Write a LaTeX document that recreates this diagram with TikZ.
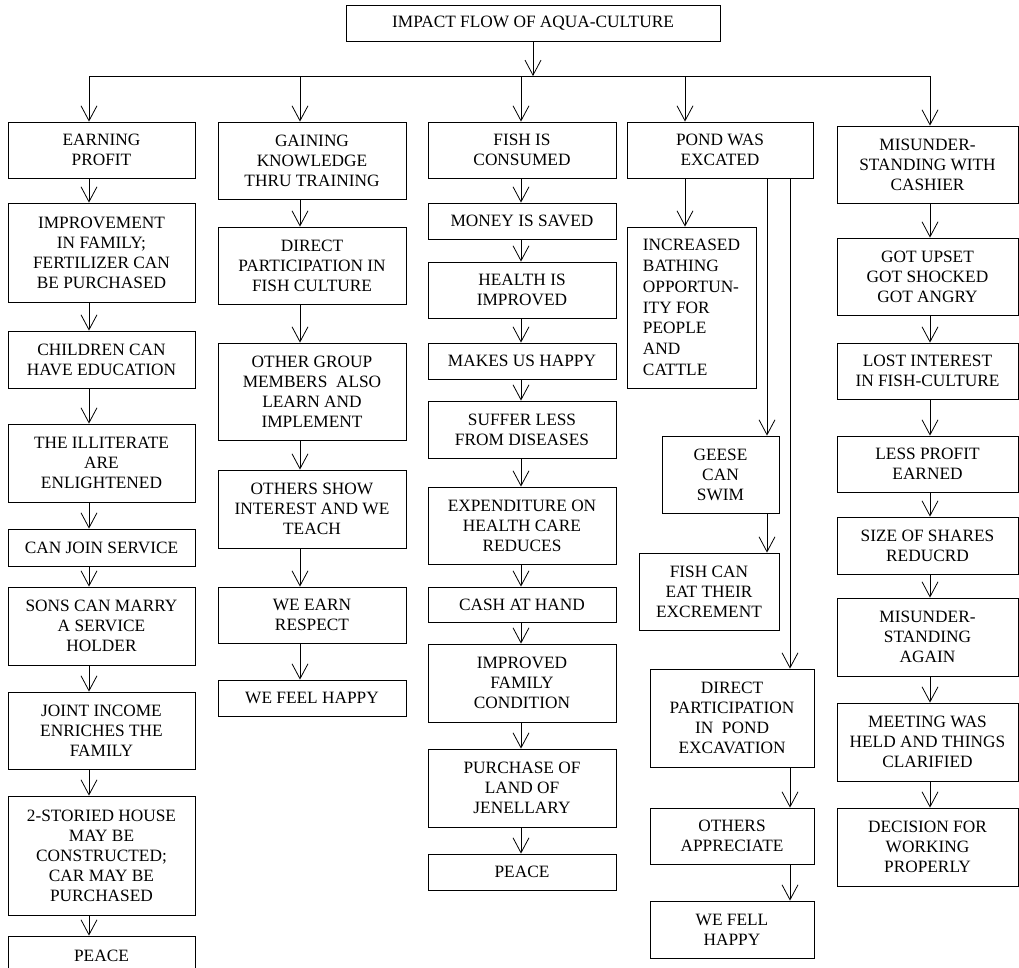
\documentclass[tikz,border=0pt]{standalone}
\usepackage{fontspec}
\setmainfont{Liberation Serif}
\usetikzlibrary{arrows.meta}

% box from corner (x1,y1) to (x2,y2), y measured downward
\newcommand\flowbox[7][]{%
  \node[box,#1,minimum width={#4-#2},minimum height={#5-#3}] (#6)
    at ({(#2+#4)/2},{(#3+#5)/2}) {#7};}

\begin{document}
\begin{tikzpicture}[x=1pt,y=-1pt,
  box/.style={draw,line width=0.8pt,inner sep=0pt,align=center,
    font=\fontsize{17.3}{20}\selectfont},
  arr/.style={line width=0.8pt,-{Straight Barb[length=15pt,width=16pt,line width=0.8pt]}},
  link/.style={line width=0.8pt}]
\useasboundingbox (0,0) rectangle (1019,967);
\clip (0,0) rectangle (1019,967);

% arrow columns
\coordinate (xa) at (89,0);
\coordinate (xb) at (300,0);
\coordinate (xc) at (521,0);
\coordinate (xd) at (685,0);
\coordinate (xg) at (767,0);
\coordinate (xp) at (790,0);
\coordinate (xe) at (930,0);
\coordinate (bus) at (533,76);

\flowbox{346}{5}{720}{41}{title}{IMPACT FLOW OF AQUA-CULTURE}

% column 1
\flowbox{8}{122}{195}{178}{a1}{EARNING\\PROFIT}
\flowbox{8}{203}{195}{302}{a2}{IMPROVEMENT\\IN FAMILY;\\FERTILIZER CAN\\BE PURCHASED}
\flowbox{8}{331}{195}{388}{a3}{CHILDREN CAN\\HAVE EDUCATION}
\flowbox{8}{424}{195}{502}{a4}{THE ILLITERATE\\ARE\\ENLIGHTENED}
\flowbox{8}{529}{195}{566}{a5}{CAN JOIN SERVICE}
\flowbox{8}{587}{195}{665}{a6}{SONS CAN MARRY\\A SERVICE\\HOLDER}
\flowbox{8}{692}{195}{769}{a7}{JOINT INCOME\\ENRICHES THE\\FAMILY}
\flowbox{8}{796}{195}{915}{a8}{2-STORIED HOUSE\\MAY BE\\CONSTRUCTED;\\CAR MAY BE\\PURCHASED}
\flowbox{8}{936}{195}{976}{a9}{PEACE}

% column 2
\flowbox{218}{122}{406}{199}{b1}{GAINING\\KNOWLEDGE\\THRU TRAINING}
\flowbox{218}{227}{406}{304}{b2}{DIRECT\\PARTICIPATION IN\\FISH CULTURE}
\flowbox{218}{343}{406}{440}{b3}{OTHER GROUP\\MEMBERS\ \ ALSO\\LEARN AND\\IMPLEMENT}
\flowbox{218}{470}{406}{548}{b4}{OTHERS SHOW\\INTEREST AND WE\\TEACH}
\flowbox{218}{587}{406}{643}{b5}{WE EARN\\RESPECT}
\flowbox{218}{680}{406}{716}{b6}{WE FEEL HAPPY}

% column 3
\flowbox{428}{122}{616}{178}{c1}{FISH IS\\CONSUMED}
\flowbox{428}{203}{616}{239}{c2}{MONEY IS SAVED}
\flowbox{428}{262}{616}{318}{c3}{HEALTH IS\\IMPROVED}
\flowbox{428}{343}{616}{379}{c4}{MAKES US HAPPY}
\flowbox{428}{401}{616}{458}{c5}{SUFFER LESS\\FROM DISEASES}
\flowbox{428}{487}{616}{564}{c6}{EXPENDITURE ON\\HEALTH CARE\\REDUCES}
\flowbox{428}{587}{616}{622}{c7}{CASH AT HAND}
\flowbox{428}{644}{616}{722}{c8}{IMPROVED\\FAMILY\\CONDITION}
\flowbox{428}{749}{616}{827}{c9}{PURCHASE OF\\LAND OF\\JENELLARY}
\flowbox{428}{854}{616}{890}{c10}{PEACE}

% column 4
\flowbox{627}{122}{813}{178}{d1}{POND WAS\\EXCATED}
\flowbox[align=left,font=\fontsize{17.3}{20.8}\selectfont]{627}{227}{756}{388}{d2}{INCREASED\\BATHING\\OPPORTUN-\\ITY FOR\\PEOPLE\\AND\\CATTLE}
\flowbox{662}{436}{779}{513}{d3}{GEESE\\CAN\\SWIM}
\flowbox{639}{553}{779}{630}{d4}{FISH CAN\\EAT THEIR\\EXCREMENT}
\flowbox{650}{669}{814}{767}{d5}{DIRECT\\PARTICIPATION\\IN\ \ POND\\EXCAVATION}
\flowbox{650}{808}{814}{864}{d6}{OTHERS\\APPRECIATE}
\flowbox{650}{901}{814}{958}{d7}{WE FELL\\HAPPY}

% column 5
\flowbox{837}{126}{1018}{203}{e1}{MISUNDER-\\STANDING WITH\\CASHIER}
\flowbox{837}{238}{1018}{315}{e2}{GOT UPSET\\GOT SHOCKED\\GOT ANGRY}
\flowbox{837}{343}{1018}{399}{e3}{LOST INTEREST\\IN FISH-CULTURE}
\flowbox{837}{436}{1018}{492}{e4}{LESS PROFIT\\EARNED}
\flowbox{837}{517}{1018}{574}{e5}{SIZE OF SHARES\\REDUCRD}
\flowbox{837}{598}{1018}{676}{e6}{MISUNDER-\\STANDING\\AGAIN}
\flowbox{837}{703}{1018}{781}{e7}{MEETING WAS\\HELD AND THINGS\\CLARIFIED}
\flowbox{837}{808}{1018}{886}{e8}{DECISION FOR\\WORKING\\PROPERLY}

% title to distribution line
\draw[arr] (title.south) -- (title.south |- bus);
\draw[link] (xa |- bus) -- (xe |- bus);
\draw[arr] (xa |- bus) -- (a1.north -| xa);
\draw[arr] (xb |- bus) -- (b1.north -| xb);
\draw[arr] (xc |- bus) -- (c1.north -| xc);
\draw[arr] (xd |- bus) -- (d1.north -| xd);
\draw[arr] (xe |- bus) -- (e1.north -| xe);

% column chains
\foreach \u/\v in {a1/a2,a2/a3,a3/a4,a4/a5,a5/a6,a6/a7,a7/a8,a8/a9}
  \draw[arr] (\u.south -| xa) -- (\v.north -| xa);
\foreach \u/\v in {b1/b2,b2/b3,b3/b4,b4/b5,b5/b6}
  \draw[arr] (\u.south -| xb) -- (\v.north -| xb);
\foreach \u/\v in {c1/c2,c2/c3,c3/c4,c4/c5,c5/c6,c6/c7,c7/c8,c8/c9,c9/c10}
  \draw[arr] (\u.south -| xc) -- (\v.north -| xc);
\foreach \u/\v in {e1/e2,e2/e3,e3/e4,e4/e5,e5/e6,e6/e7,e7/e8}
  \draw[arr] (\u.south -| xe) -- (\v.north -| xe);

% pond branches
\draw[arr] (d1.south -| xd) -- (d2.north -| xd);
\draw[arr] (d1.south -| xg) -- (d3.north -| xg);
\draw[arr] (d3.south -| xg) -- (d4.north -| xg);
\draw[arr] (d1.south -| xp) -- (d5.north -| xp);
\draw[arr] (d5.south -| xp) -- (d6.north -| xp);
\draw[arr] (d6.south -| xp) -- (d7.north -| xp);
\end{tikzpicture}
\end{document}
